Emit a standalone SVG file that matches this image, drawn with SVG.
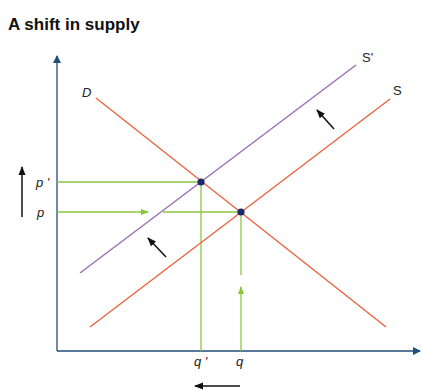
<svg xmlns="http://www.w3.org/2000/svg" width="422" height="390" viewBox="0 0 422 390">
<style>
.t{font-family:"Liberation Sans",Arial,sans-serif;font-size:13px;fill:#222}
.i{font-style:italic}
.ax{stroke:#1f4e79;stroke-width:1.3;fill:none}
.g{stroke:#8cc63f;stroke-width:1.3;fill:none}
.red{stroke:#e8603c;stroke-width:1.3;fill:none}
.pur{stroke:#9a6cb8;stroke-width:1.4;fill:none}
.blk{stroke:#111;stroke-width:1.5;fill:none}
</style>
<defs>
<marker id="ah" markerWidth="8" markerHeight="8" refX="7" refY="4" orient="auto" markerUnits="userSpaceOnUse"><path d="M0,0 L8,4 L0,8 Z" fill="#1f4e79"/></marker>
<marker id="gh" markerWidth="8" markerHeight="8" refX="7" refY="4" orient="auto" markerUnits="userSpaceOnUse"><path d="M0,1 L8,4 L0,7 Z" fill="#8cc63f"/></marker>
<marker id="bh" markerWidth="9" markerHeight="9" refX="8" refY="4.5" orient="auto" markerUnits="userSpaceOnUse"><path d="M0,1 L9,4.5 L0,8 Z" fill="#111"/></marker>
</defs>
<rect width="422" height="390" fill="#fff"/>
<text x="8" y="30" style="font-family:'Liberation Sans',Arial,sans-serif;font-size:17px;font-weight:bold;fill:#111">A shift in supply</text>
<g id="connectors">
<line class="ax" x1="57" y1="351" x2="57" y2="56" marker-end="url(#ah)"/>
<line class="ax" x1="57" y1="351" x2="420" y2="351" marker-end="url(#ah)"/>
<line class="g" x1="57" y1="182" x2="201" y2="182"/>
<line class="g" x1="57" y1="212" x2="148" y2="212" marker-end="url(#gh)"/>
<line class="g" x1="163" y1="212" x2="241" y2="212"/>
<line class="g" x1="201" y1="182" x2="201" y2="351"/>
<line class="g" x1="241" y1="351" x2="241" y2="287" marker-end="url(#gh)"/>
<line class="g" x1="241" y1="275" x2="241" y2="212"/>
<line class="blk" x1="22" y1="217" x2="22" y2="167" marker-end="url(#bh)"/>
<line class="blk" x1="240" y1="386" x2="195" y2="386" marker-end="url(#bh)"/>
<line class="blk" x1="334" y1="129" x2="317" y2="110" marker-end="url(#bh)"/>
<line class="blk" x1="166" y1="257" x2="148" y2="238" marker-end="url(#bh)"/>
</g>
<g id="D"><line class="red" x1="96" y1="98" x2="386" y2="327"/><text class="t i" x="82" y="97">D</text></g>
<g id="S"><line class="red" x1="90" y1="327" x2="390" y2="99"/><text class="t" x="393" y="95">S</text></g>
<g id="Sprime"><line class="pur" x1="80" y1="273" x2="356" y2="65"/><text class="t" x="362" y="62">S'</text></g>
<g id="eq1"><circle cx="201" cy="182" r="3.6" fill="#1a2a6c"/></g>
<g id="eq2"><circle cx="241" cy="212" r="3.6" fill="#1a2a6c"/></g>
<g id="labels">
<text class="t i" x="36" y="187">p '</text>
<text class="t i" x="37" y="217">p</text>
<text class="t i" x="194" y="366">q '</text>
<text class="t i" x="236" y="366">q</text>
</g>
</svg>
